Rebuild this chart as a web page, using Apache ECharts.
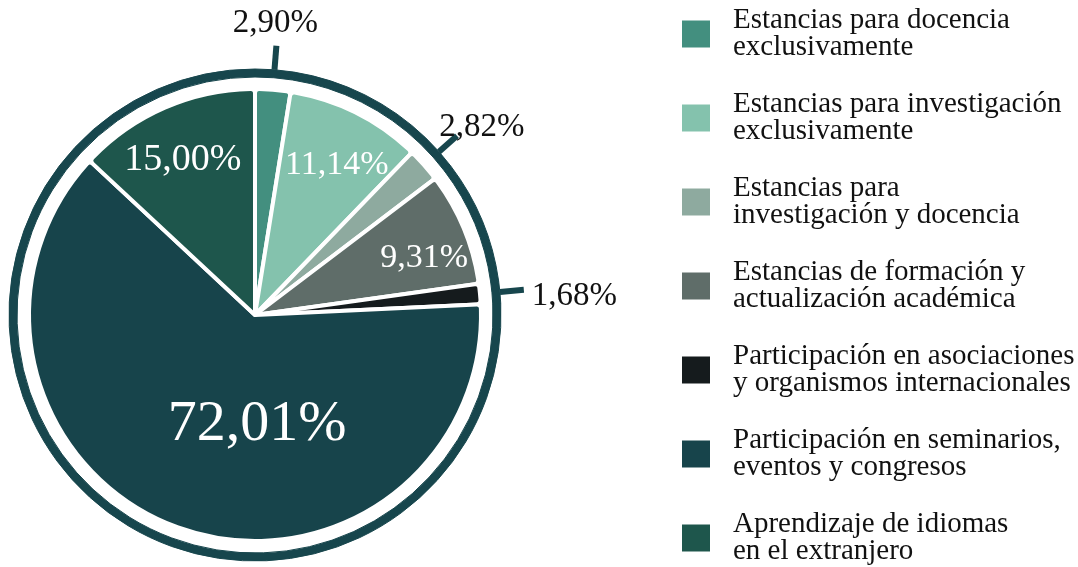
<!DOCTYPE html>
<html>
<head>
<meta charset="utf-8">
<script src="https://cdn.jsdelivr.net/npm/echarts@6/dist/echarts.min.js"></script>
<style>
html, body { margin: 0; background: #fff; }
#chart { width: 1078px; height: 567px; }
</style>
</head>
<body>
<div id="chart"></div>
<script>
// datos
var categories = [
    'Estancias para docencia\nexclusivamente',
    'Estancias para investigación\nexclusivamente',
    'Estancias para\ninvestigación y docencia',
    'Estancias de formación y\nactualización académica',
    'Participación en asociaciones\ny organismos internacionales',
    'Participación en seminarios,\neventos y congresos',
    'Aprendizaje de idiomas\nen el extranjero'
];
var values = [2.90, 11.14, 2.82, 9.31, 1.68, 72.01, 15.00];

// estilos
var colors = ['#438f7f', '#84c2ad', '#8eaa9f', '#5f6d69', '#151b1d', '#17444b', '#1e564c'];
var ringColor = '#17464d';
var serif = 'Liberation Serif';
// etiquetas dentro del sector (tamaño) y ajuste de posicion
var insideSize = [0, 34, 0, 34, 0, 58, 38];
var insideShift = [null, [30, -46], null, [62, -12], null, [42, 1], [-26, -49]];
// etiquetas fuera del anillo
var outsideShift = [
    {dx: -1, dy: -23, align: 'center'}, null,
    {dx: 25, dy: -8, align: 'center'}, null,
    {dx: 8, dy: 6}, null, null
];

function fmt(v) {
    return v.toFixed(2).replace('.', ',') + '%';
}

var chart = echarts.init(document.getElementById('chart'));
chart.setOption({
    backgroundColor: '#fff',
    animation: false,
    legend: {
        orient: 'vertical',
        left: 680,
        top: 6,
        height: 600,
        padding: 0,
        itemWidth: 30,
        itemHeight: 29,
        itemGap: 28,
        icon: 'rect',
        selectedMode: false,
        data: categories,
        textStyle: {
            fontFamily: serif,
            fontSize: 29,
            lineHeight: 27,
            color: '#111',
            padding: [0, 0, 0, 17]
        }
    },
    series: [
        {
            // sectores
            type: 'pie',
            center: [255, 315],
            radius: [0, 226],
            startAngle: 90,
            silent: true,
            avoidLabelOverlap: false,
            itemStyle: {
                borderColor: '#fff',
                borderWidth: 4,
                borderRadius: 4
            },
            labelLine: {show: false},
            data: values.map(function (v, i) {
                return {
                    name: categories[i],
                    value: v,
                    itemStyle: {color: colors[i]},
                    label: insideSize[i] ? {
                        show: true,
                        position: 'inside',
                        color: '#fff',
                        fontFamily: serif,
                        fontSize: insideSize[i],
                        formatter: fmt(v)
                    } : {show: false}
                };
            }),
            labelLayout: function (p) {
                var s = insideShift[p.dataIndex];
                return s ? {dx: s[0], dy: s[1]} : {};
            }
        },
        {
            // anillo exterior con marcas
            type: 'pie',
            center: [255, 315],
            radius: [238, 246],
            startAngle: 90,
            silent: true,
            avoidLabelOverlap: false,
            itemStyle: {color: ringColor, borderColor: ringColor, borderWidth: 1},
            data: values.map(function (v, i) {
                var out = !!outsideShift[i];
                return {
                    name: categories[i],
                    value: v,
                    label: {
                        show: out,
                        position: 'outside',
                        color: '#111',
                        fontFamily: serif,
                        fontSize: 33,
                        distanceToLabelLine: 0,
                        formatter: fmt(v)
                    },
                    labelLine: {
                        show: out,
                        length: 24,
                        length2: 0,
                        lineStyle: {color: ringColor, width: 6}
                    }
                };
            }),
            labelLayout: function (p) {
                return outsideShift[p.dataIndex] || {};
            }
        }
    ]
});
</script>
</body>
</html>
